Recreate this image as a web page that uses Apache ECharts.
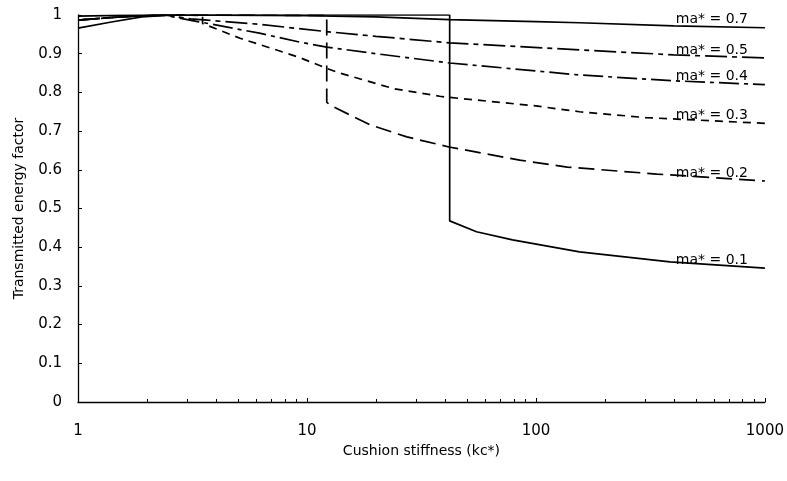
<!DOCTYPE html>
<html>
<head>
<meta charset="utf-8">
<script src="https://cdn.jsdelivr.net/npm/echarts@6/dist/echarts.min.js"></script>
<style>
  html, body { margin: 0; padding: 0; background: #fff; }
  #chart { width: 787px; height: 481px; }
</style>
</head>
<body>
<div id="chart"></div>
<script>
// Transmitted energy factor vs cushion stiffness, one curve per mass ratio ma*
const massRatios = ['0.1', '0.2', '0.3', '0.4', '0.5', '0.7'];

const kc01 = [1, 1.5, 2.2, 42, 42, 55, 79, 155, 385, 1000];
const te01 = [0.997, 0.999, 1.0, 1.0, 0.468, 0.44, 0.419, 0.388, 0.362, 0.346];

const kc02 = [1, 1.6, 2.4, 12.2, 12.2, 12.6, 18.9, 27.3, 41.7, 85, 137, 337, 1000];
const te02 = [0.987, 0.996, 1.0, 0.999, 0.775, 0.767, 0.716, 0.685, 0.659, 0.625, 0.607, 0.589, 0.571];

const kc03 = [1, 1.6, 2.4, 3.5, 3.5, 5.1, 6.9, 9.3, 12.2, 13.9, 23.8, 38, 42, 100, 155, 300, 1000];
const te03 = [0.987, 0.996, 1.0, 0.999, 0.978, 0.94, 0.915, 0.89, 0.862, 0.85, 0.81, 0.79, 0.787, 0.765, 0.75, 0.735, 0.72];

const kc04 = [1, 1.6, 2.4, 3.2, 6.2, 9.3, 12.2, 20, 42, 155, 400, 1000];
const te04 = [0.987, 0.996, 0.999, 0.985, 0.953, 0.93, 0.917, 0.9, 0.876, 0.845, 0.83, 0.82];

const kc05 = [1, 1.6, 2.4, 3.1, 6.2, 12.2, 20, 42, 155, 400, 1000];
const te05 = [0.987, 0.996, 1.0, 0.99, 0.976, 0.957, 0.945, 0.928, 0.91, 0.897, 0.889];

const kc07 = [1, 1.4, 1.9, 2.6, 10, 20, 42, 100, 155, 400, 1000];
const te07 = [0.966, 0.982, 0.995, 1.0, 0.998, 0.995, 0.988, 0.983, 0.98, 0.972, 0.967];

const yTicks = [0, 0.1, 0.2, 0.3, 0.4, 0.5, 0.6, 0.7, 0.8, 0.9, 1];
const xTickLabels = { 1: '1', 10: '10', 100: '100', 1000: '1000' };

const curves = [
  { m: massRatios[0], kc: kc01, te: te01, dash: 'solid' },
  { m: massRatios[1], kc: kc02, te: te02, dash: [16, 7] },
  { m: massRatios[2], kc: kc03, te: te03, dash: [8, 6] },
  { m: massRatios[3], kc: kc04, te: te04, dash: [20, 5, 4, 5] },
  { m: massRatios[4], kc: kc05, te: te05, dash: [22, 5, 5, 5] },
  { m: massRatios[5], kc: kc07, te: te07, dash: 'solid' }
];

const ink = '#000';
const fontFamily = '"DejaVu Sans", "Liberation Sans", sans-serif';

const lineSeries = curves.map(c => ({
  name: 'ma* = ' + c.m,
  type: 'line',
  showSymbol: false,
  symbol: 'none',
  animation: false,
  silent: true,
  data: c.kc.map((k, i) => [k, c.te[i]]),
  lineStyle: { color: ink, width: 1.7, type: c.dash }
}));

// curve names written on top of each curve near its right end
const labelSeries = {
  type: 'scatter',
  symbolSize: 0,
  silent: true,
  animation: false,
  itemStyle: { opacity: 1 },
  data: curves.map(c => ({
    value: [1000, c.te[c.te.length - 1]],
    label: {
      show: true,
      formatter: 'ma* = ' + c.m,
      position: [-17, -1],
      align: 'right',
      verticalAlign: 'bottom',
      color: ink,
      opacity: 1,
      fontSize: 14,
      fontFamily: fontFamily
    }
  }))
};

const chart = echarts.init(document.getElementById('chart'), null, { renderer: 'canvas' });
chart.setOption({
  backgroundColor: '#fff',
  animation: false,
  grid: { left: 78, right: 22, top: 15, bottom: 79, containLabel: false },
  xAxis: {
    type: 'log',
    logBase: 10,
    min: 1,
    max: 1000,
    name: 'Cushion stiffness (kc*)',
    nameLocation: 'middle',
    nameGap: 42,
    nameTextStyle: { color: ink, fontSize: 14, fontFamily: fontFamily },
    axisLine: { lineStyle: { color: ink, width: 1.3 } },
    axisTick: { show: true, inside: true, length: 4, lineStyle: { color: ink } },
    minorTick: { show: true, splitNumber: 9, length: 3, lineStyle: { color: ink } },
    splitLine: { show: false },
    axisLabel: {
      color: ink, fontSize: 15, fontFamily: fontFamily, margin: 22,
      formatter: v => xTickLabels[Math.round(v)] || String(v)
    }
  },
  yAxis: {
    type: 'value',
    min: yTicks[0],
    max: yTicks[yTicks.length - 1],
    interval: 0.1,
    name: 'Transmitted energy factor',
    nameLocation: 'middle',
    nameGap: 52,
    nameTextStyle: { color: ink, fontSize: 14, fontFamily: fontFamily },
    axisLine: { show: true, lineStyle: { color: ink, width: 1.3 } },
    axisTick: { show: true, inside: true, length: 4, lineStyle: { color: ink } },
    splitLine: { show: false },
    axisLabel: { color: ink, fontSize: 15, fontFamily: fontFamily, margin: 16 }
  },
  series: lineSeries.concat([labelSeries])
});
</script>
</body>
</html>
